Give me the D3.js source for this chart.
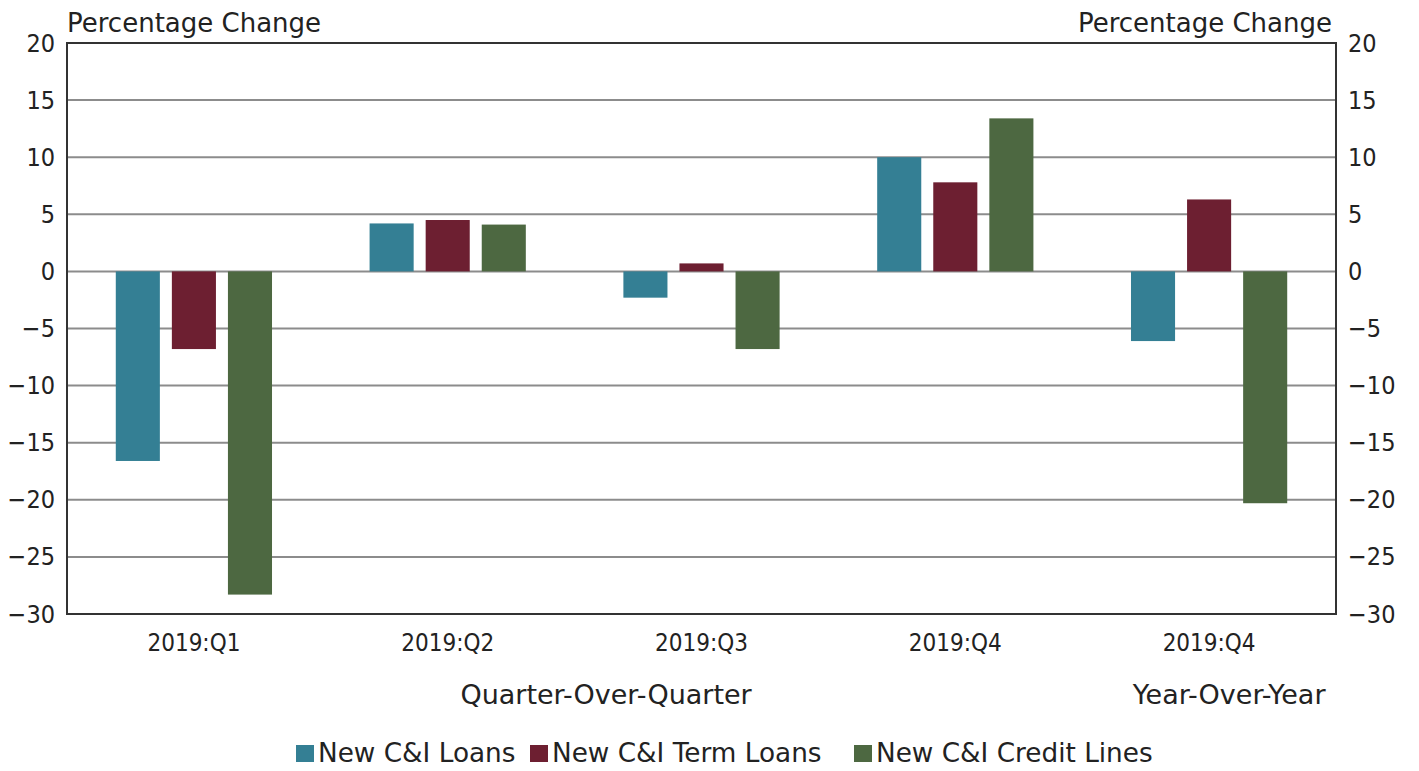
<!DOCTYPE html>
<html>
<head>
<meta charset="utf-8">
<script src="https://cdn.jsdelivr.net/npm/d3@7"></script>
<style>
  body { margin: 0; background: #fff; }
  text { font-family: "DejaVu Sans", sans-serif; fill: #222; }
  .tick text { font-family: "DejaVu Sans Condensed", "DejaVu Sans", sans-serif; }
</style>
</head>
<body>
<div id="chart"></div>
<script>
var categories = ['2019:Q1', '2019:Q2', '2019:Q3', '2019:Q4', '2019:Q4 '];
var series = ['New C&I Loans', 'New C&I Term Loans', 'New C&I Credit Lines'];
var loans = [-16.6, 4.2, -2.3, 10.0, -6.1];
var term_loans = [-6.8, 4.5, 0.7, 7.8, 6.3];
var credit_lines = [-28.3, 4.1, -6.8, 13.4, -20.3];
var y_ticks = [-30, -25, -20, -15, -10, -5, 0, 5, 10, 15, 20];

var COLORS = ['#347f94', '#6d1f31', '#4d6841'];

var outer_width = 1419, outer_height = 771;
var margin = { top: 43, left: 67, bottom: 157, right: 83 };
var width = outer_width - margin.left - margin.right;
var height = outer_height - margin.top - margin.bottom;

var values = [loans, term_loans, credit_lines];
var rows = [];
categories.forEach(function(c, i) {
    series.forEach(function(s, j) {
        rows.push({ cat: c, series: s, idx: j, value: values[j][i] });
    });
});

var x0 = d3.scaleBand().domain(categories).range([0, width]);
var x1 = d3.scaleBand().domain(series)
    .range([0, x0.bandwidth()])
    .paddingInner(0.214)
    .paddingOuter(0.87);
var sy = d3.scaleLinear().domain([-30, 20]).range([height, 0]);

var svg = d3.select('#chart').append('svg')
    .attr('width', outer_width)
    .attr('height', outer_height);
var g = svg.append('g')
    .attr('transform', 'translate(' + margin.left + ', ' + margin.top + ')');

// gridlines
g.append('g').selectAll('line').data(y_ticks.filter(function(d) { return d > -30 && d < 20; }))
    .enter().append('line')
    .attr('x1', 0).attr('x2', width)
    .attr('y1', function(d) { return sy(d); })
    .attr('y2', function(d) { return sy(d); })
    .attr('stroke', '#8c8c8c')
    .attr('stroke-width', 2);

// bars
g.append('g').selectAll('rect').data(rows).enter().append('rect')
    .attr('x', function(d) { return x0(d.cat) + x1(d.series); })
    .attr('width', x1.bandwidth())
    .attr('y', function(d) { return sy(Math.max(0, d.value)); })
    .attr('height', function(d) { return Math.abs(sy(d.value) - sy(0)); })
    .attr('fill', function(d) { return COLORS[d.idx]; });

// frame
g.append('rect')
    .attr('x', 0).attr('y', 0)
    .attr('width', width).attr('height', height)
    .attr('fill', 'none')
    .attr('stroke', '#333')
    .attr('stroke-width', 2);

function fmt(d) { return d < 0 ? '\u2212' + Math.abs(d) : d; }
var ay = d3.axisLeft(sy).tickValues(y_ticks).tickSize(0).tickPadding(12).tickFormat(fmt);
var ay2 = d3.axisRight(sy).tickValues(y_ticks).tickSize(0).tickPadding(12).tickFormat(fmt);
var ax = d3.axisBottom(x0).tickSize(0).tickPadding(20)
    .tickFormat(function(d) { return d.trim(); });

var gy = g.append('g').call(ay);
var gy2 = g.append('g').attr('transform', 'translate(' + width + ',0)').call(ay2);
var gx = g.append('g').attr('transform', 'translate(0,' + height + ')').call(ax);
[gy, gy2].forEach(function(a) {
    a.select('.domain').remove();
    a.selectAll('text').style('font-size', '25px').attr('fill', '#222');
});
gx.select('.domain').remove();
gx.selectAll('text').style('font-size', '24px').attr('fill', '#222');

// axis titles
g.append('text').attr('x', 0).attr('y', -11)
    .style('font-size', '26px').text('Percentage Change');
g.append('text').attr('x', width - 4).attr('y', -11)
    .attr('text-anchor', 'end')
    .style('font-size', '26px').text('Percentage Change');

// group labels
g.append('text')
    .attr('x', x0.step() * 2.124)
    .attr('y', height + 90)
    .attr('text-anchor', 'middle')
    .style('font-size', '27px').text('Quarter-Over-Quarter');
g.append('text')
    .attr('x', x0(categories[4]) + x0.bandwidth() / 2 + 20)
    .attr('y', height + 90)
    .attr('text-anchor', 'middle')
    .style('font-size', '27px').text('Year-Over-Year');

// legend
var legend = svg.append('g').attr('class', 'legend');
var lx = [296, 530, 854];
series.forEach(function(s, i) {
    legend.append('rect')
        .attr('x', lx[i]).attr('y', 745)
        .attr('width', 18).attr('height', 17)
        .attr('fill', COLORS[i]);
    legend.append('text')
        .attr('x', lx[i] + 22).attr('y', 762)
        .style('font-size', '26.3px')
        .text(s);
});
</script>
</body>
</html>
